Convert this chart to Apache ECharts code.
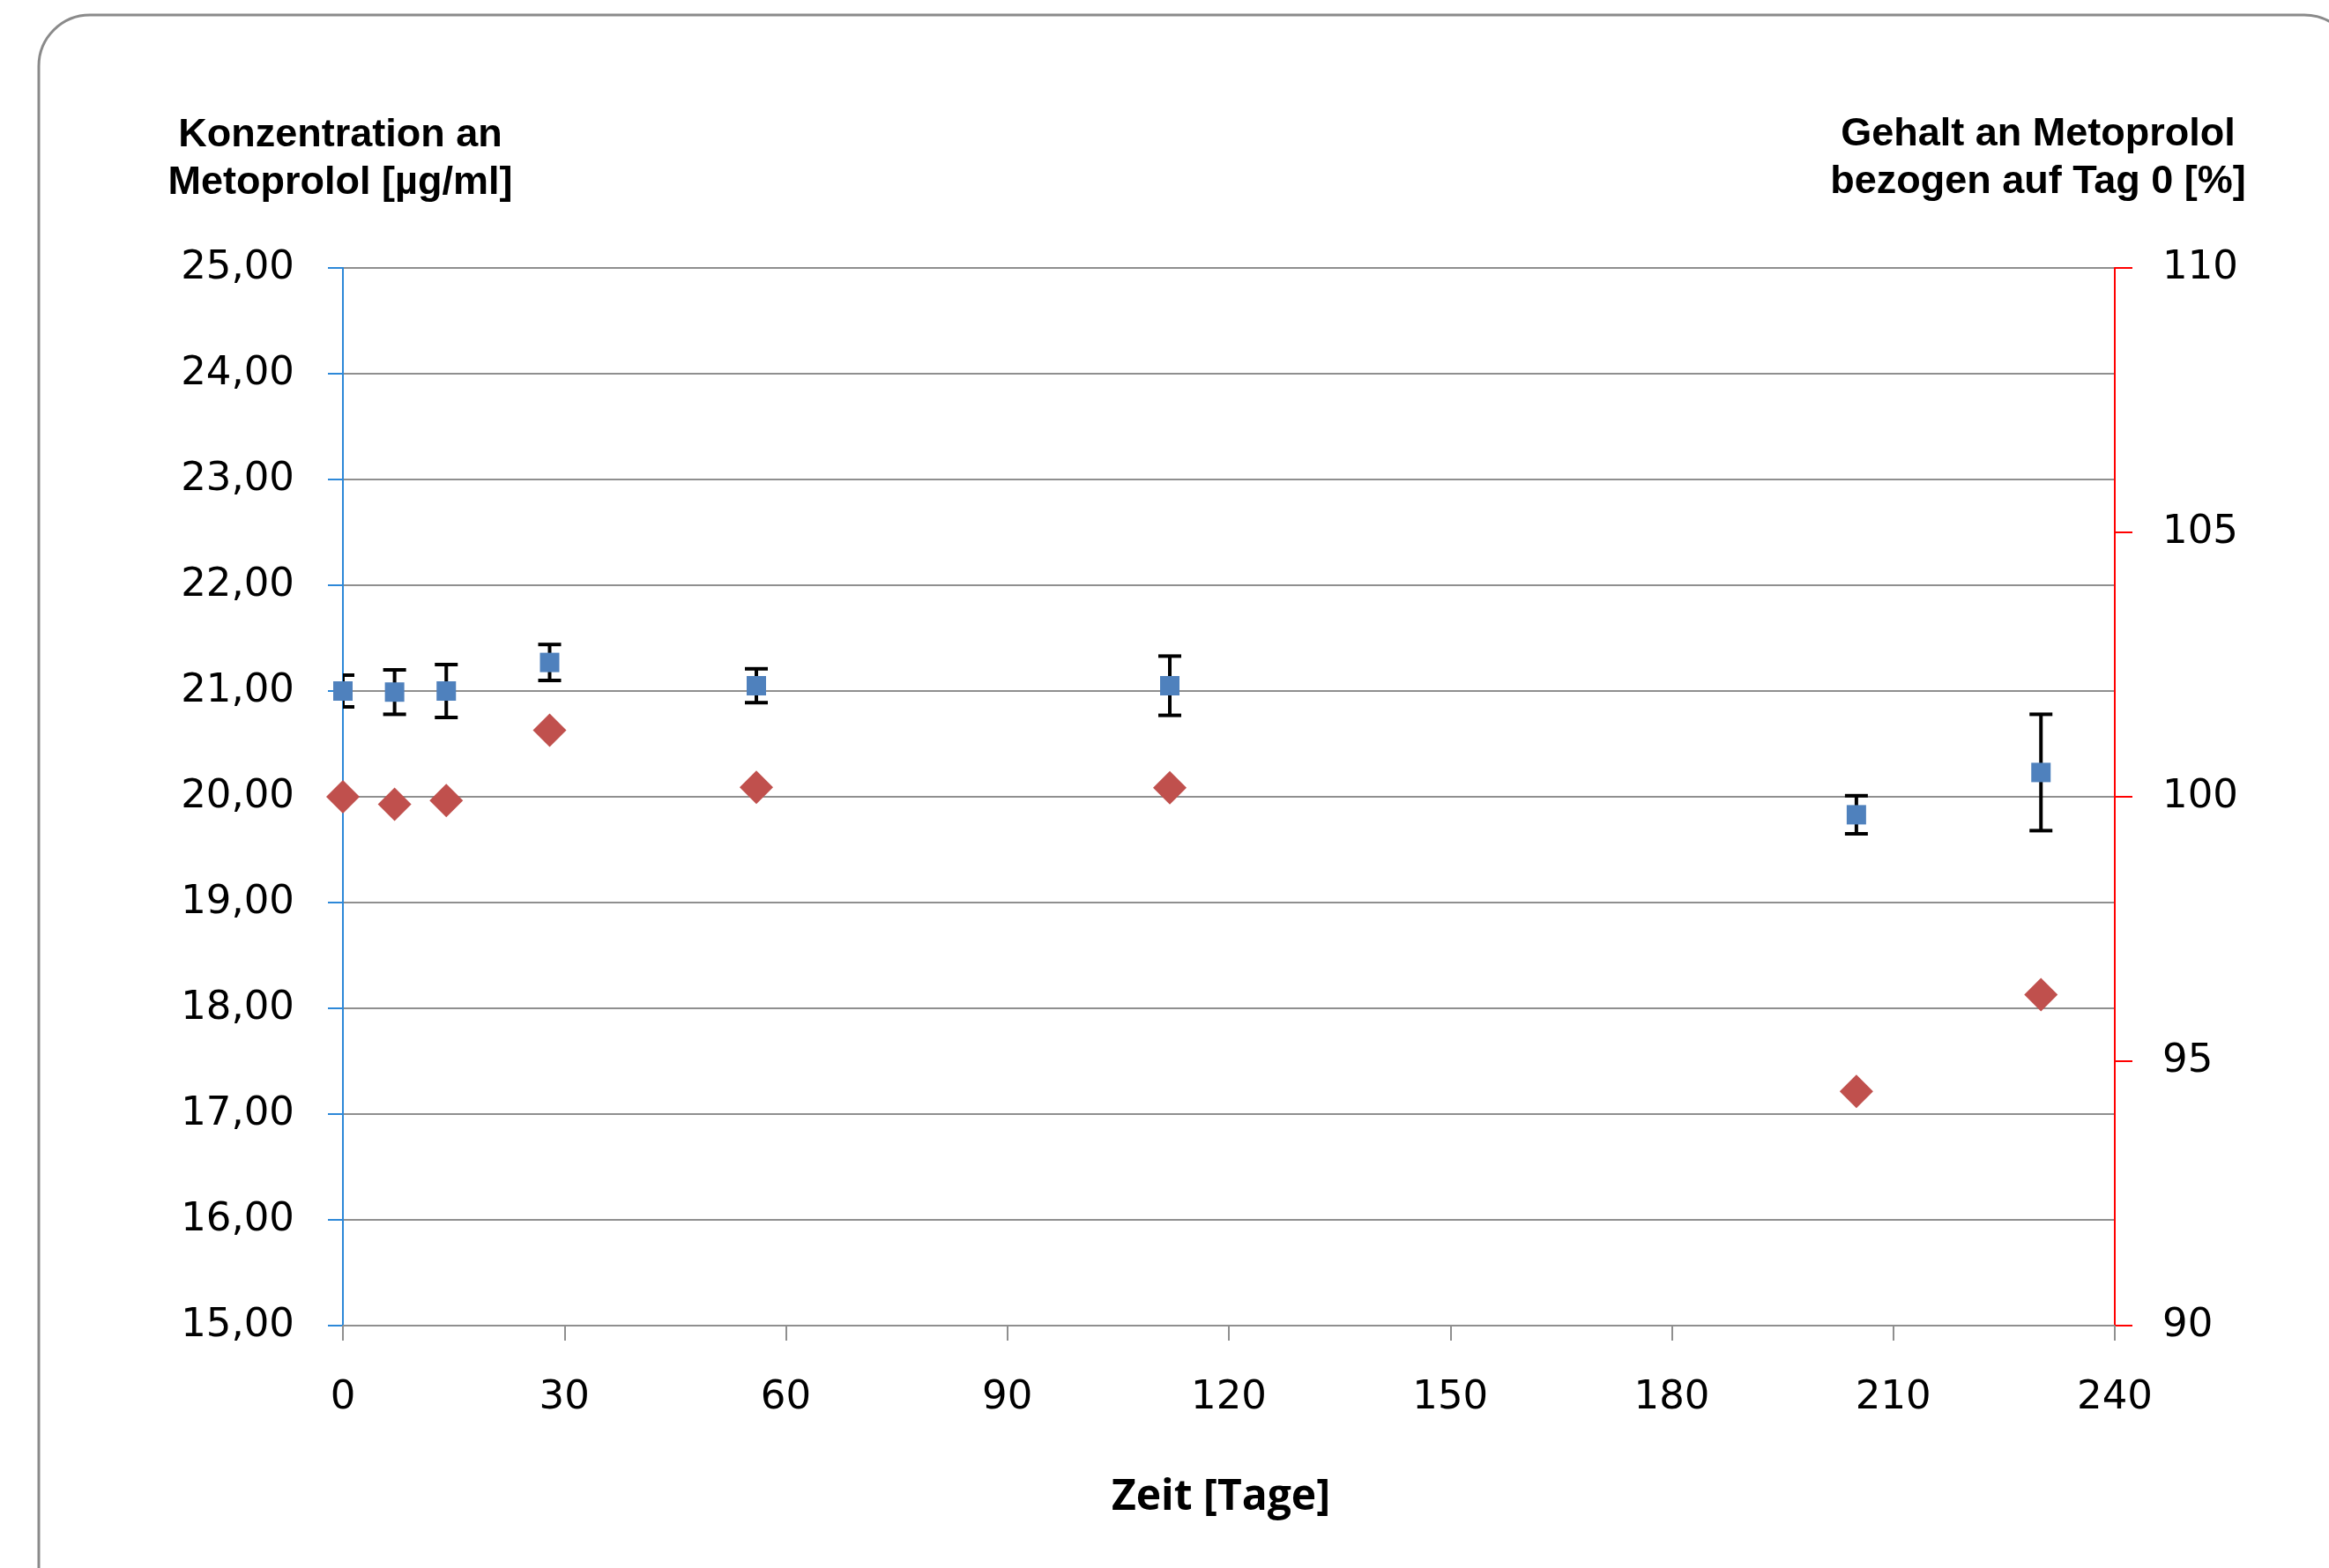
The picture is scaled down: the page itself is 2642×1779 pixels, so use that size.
<!DOCTYPE html>
<html><head><meta charset="utf-8">
<script src="https://cdn.jsdelivr.net/npm/echarts@6/dist/echarts.min.js"></script>
<style>html,body{margin:0;padding:0;background:#fff}#c{width:2642px;height:1779px}</style>
</head><body><div id="c"></div>
<script>
// ---- data ----
const days = [0, 7, 14, 28, 56, 112, 205, 230];
const concentration = [21.00, 20.99, 21.00, 21.27, 21.05, 21.05, 19.83, 20.23];
const concentrationSD = [0.15, 0.21, 0.25, 0.17, 0.16, 0.28, 0.18, 0.55];
const contentPercent = [100.0, 99.86, 99.93, 101.26, 100.18, 100.17, 94.43, 96.26];

const xAxisRange = { min: 0, max: 240, interval: 30 };
const leftAxisRange = { min: 15, max: 25, interval: 1 };
const rightAxisRange = { min: 90, max: 110, interval: 5 };

const leftTitle = 'Konzentration an\nMetoprolol [µg/ml]';
const rightTitle = 'Gehalt an Metoprolol\nbezogen auf Tag 0 [%]';
const xTitle = 'Zeit [Tage]';

// ---- chart ----
const chart = echarts.init(document.getElementById('c'), null, { renderer: 'canvas' });

const tickFont = { fontFamily: 'DejaVu Sans', fontSize: 45, color: '#000' };
const titleFont = { fontFamily: 'Liberation Sans, Arial, sans-serif', fontWeight: 'bold', fontSize: 45, fill: '#000' };

const concData = days.map((d, i) => [d, concentration[i]]);
const errData = days.map((d, i) => [d, concentration[i] - concentrationSD[i], concentration[i] + concentrationSD[i]]);
const pctData = days.map((d, i) => [d, contentPercent[i]]);

chart.setOption({
  animation: false,
  backgroundColor: '#fff',
  grid: { left: 389, right: 243, top: 304, bottom: 275, containLabel: false },
  xAxis: {
    type: 'value', min: xAxisRange.min, max: xAxisRange.max, interval: xAxisRange.interval,
    axisLine: { show: true, onZero: false, lineStyle: { color: '#8f8f8f', width: 2 } },
    axisTick: { show: true, inside: false, length: 17, lineStyle: { color: '#8f8f8f', width: 2 } },
    axisLabel: Object.assign({ margin: 60 }, tickFont),
    splitLine: { show: false }
  },
  yAxis: [
    {
      type: 'value', position: 'left', min: leftAxisRange.min, max: leftAxisRange.max, interval: leftAxisRange.interval,
      axisLine: { show: true, onZero: false, lineStyle: { color: '#2D88D8', width: 2 } },
      axisTick: { show: true, inside: false, length: 17, lineStyle: { color: '#2D88D8', width: 2 } },
      axisLabel: Object.assign({ margin: 55, formatter: v => v.toFixed(2).replace('.', ',') }, tickFont),
      splitLine: { show: true, lineStyle: { color: '#8f8f8f', width: 2 } }
    },
    {
      type: 'value', position: 'right', min: rightAxisRange.min, max: rightAxisRange.max, interval: rightAxisRange.interval,
      axisLine: { show: true, onZero: false, lineStyle: { color: '#FF0000', width: 2 } },
      axisTick: { show: true, inside: false, length: 20, lineStyle: { color: '#FF0000', width: 2 } },
      axisLabel: Object.assign({ margin: 54 }, tickFont),
      splitLine: { show: false }
    }
  ],
  series: [
    {
      name: 'SD', type: 'custom', yAxisIndex: 0, z: 2, clip: true,
      data: errData,
      encode: { x: 0, y: [1, 2] },
      renderItem: function (params, api) {
        const x = api.value(0);
        const lo = api.coord([x, api.value(1)]);
        const hi = api.coord([x, api.value(2)]);
        const hw = 13;
        const left = Math.min(hw, lo[0] - params.coordSys.x);
        const st = { stroke: '#000', lineWidth: 4 };
        return {
          type: 'group',
          children: [
            { type: 'line', shape: { x1: lo[0], y1: lo[1], x2: hi[0], y2: hi[1] }, style: st },
            { type: 'line', shape: { x1: lo[0] - left, y1: lo[1], x2: lo[0] + hw, y2: lo[1] }, style: st },
            { type: 'line', shape: { x1: hi[0] - left, y1: hi[1], x2: hi[0] + hw, y2: hi[1] }, style: st }
          ]
        };
      }
    },
    {
      name: 'Konzentration', type: 'scatter', yAxisIndex: 0, z: 3,
      data: concData, symbol: 'rect', symbolSize: 22,
      itemStyle: { color: '#4F81BD', opacity: 1 }
    },
    {
      name: 'Gehalt', type: 'scatter', yAxisIndex: 1, z: 3,
      data: pctData, symbol: 'diamond', symbolSize: 38,
      itemStyle: { color: '#C0504D', opacity: 1 }
    }
  ],
  graphic: [
    {
      type: 'rect', z: -10, silent: true,
      shape: { x: 44, y: 17, width: 2628, height: 1900, r: 58 },
      style: { fill: 'none', stroke: '#8a8a8a', lineWidth: 3 }
    },
    {
      type: 'text', x: 386, y: 181,
      style: Object.assign({ text: leftTitle, textAlign: 'center', textVerticalAlign: 'middle', lineHeight: 54 }, titleFont)
    },
    {
      type: 'text', x: 2312, y: 180,
      style: Object.assign({ text: rightTitle, textAlign: 'center', textVerticalAlign: 'middle', lineHeight: 54 }, titleFont)
    },
    {
      type: 'text', x: 1385, y: 1699,
      style: { text: xTitle, textAlign: 'center', textVerticalAlign: 'middle', fontFamily: 'Open Sans', fontWeight: 'bold', fontSize: 48, fill: '#000' }
    }
  ]
});
</script>
</body></html>
